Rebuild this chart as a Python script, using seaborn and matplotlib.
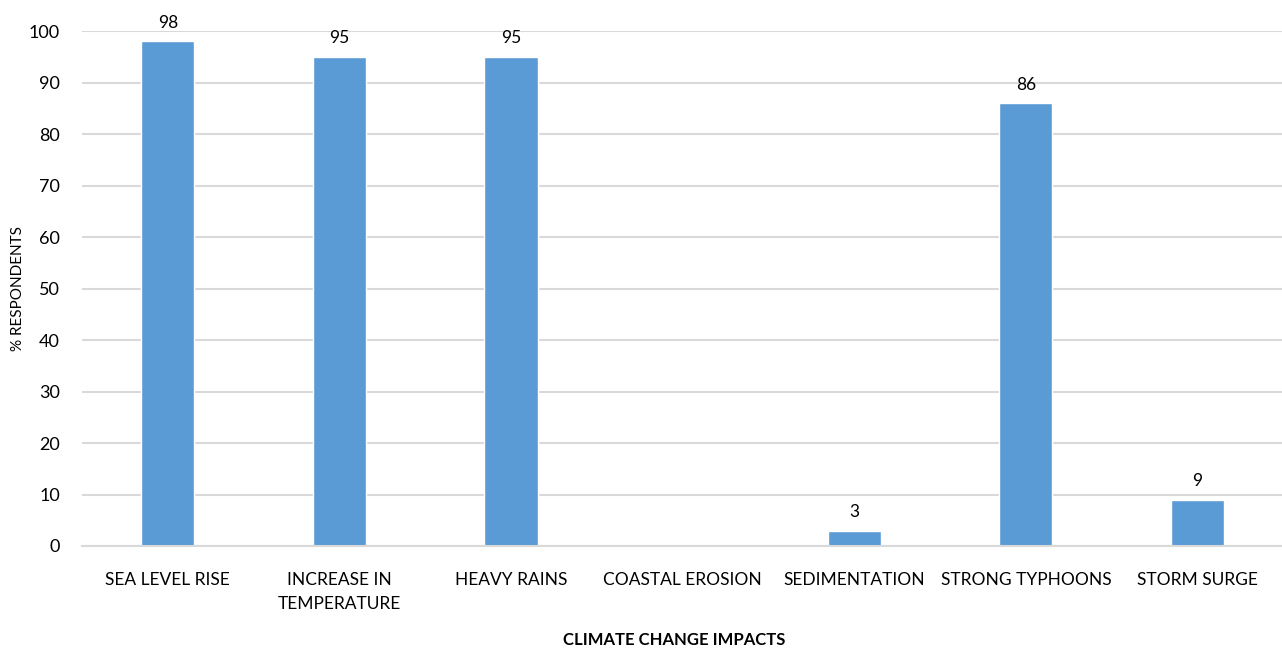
import numpy as np
import pandas as pd
import matplotlib
matplotlib.use("Agg")
import matplotlib.pyplot as plt
import seaborn as sns

categories = ["SEA LEVEL RISE", "INCREASE IN\nTEMPERATURE", "HEAVY RAINS", "COASTAL EROSION",
              "SEDIMENTATION", "STRONG TYPHOONS", "STORM SURGE"]
values = [98, 95, 95, np.nan, 3, 86, 9]
yticks = [0, 10, 20, 30, 40, 50, 60, 70, 80, 90, 100]

sns.set_theme(style="white")
plt.rcParams['font.family'] = ['Lato', 'DejaVu Sans']

df = pd.DataFrame({"cat": categories, "val": values})

fig = plt.figure(figsize=(12.82, 6.5), dpi=100)
ax = fig.add_axes([0.064, 0.16, 0.937, 0.7923])
sns.barplot(data=df, x="cat", y="val", color="#5B9BD5", saturation=1, width=0.31, ax=ax)

ax.set_ylim(0, 100)
ax.set_yticks(yticks)
ax.yaxis.grid(True, color="#D9D9D9", linewidth=1.5)
ax.set_axisbelow(True)
for s in ["top", "right", "left"]:
    ax.spines[s].set_visible(False)
ax.spines["bottom"].set_color("#D9D9D9")
ax.spines["bottom"].set_linewidth(1.5)
ax.tick_params(axis="x", length=0, pad=19, labelsize=12.5, labelcolor="#000000")
ax.tick_params(axis="y", length=0, pad=16, labelsize=13, labelcolor="#000000")
for t in ax.get_xticklabels():
    t.set_linespacing(1.55)
    t.set_verticalalignment("top")

for i, v in enumerate(values):
    if not np.isnan(v):
        ax.text(i, v + 2, f"{v:g}", ha="center", va="bottom", fontsize=12.5, color="#000000")

ax.set_ylabel("")
ax.set_xlabel("")
fig.text(18 / 1282, 1 - 288 / 650, "% RESPONDENTS", rotation=90, ha="center", va="center",
         fontsize=11, color="#000000")
fig.text(674 / 1282, 1 - 640 / 650, "CLIMATE CHANGE IMPACTS", ha="center", va="center",
         fontsize=12, fontweight="bold", color="#000000")

fig.savefig("out.png", dpi=100)
